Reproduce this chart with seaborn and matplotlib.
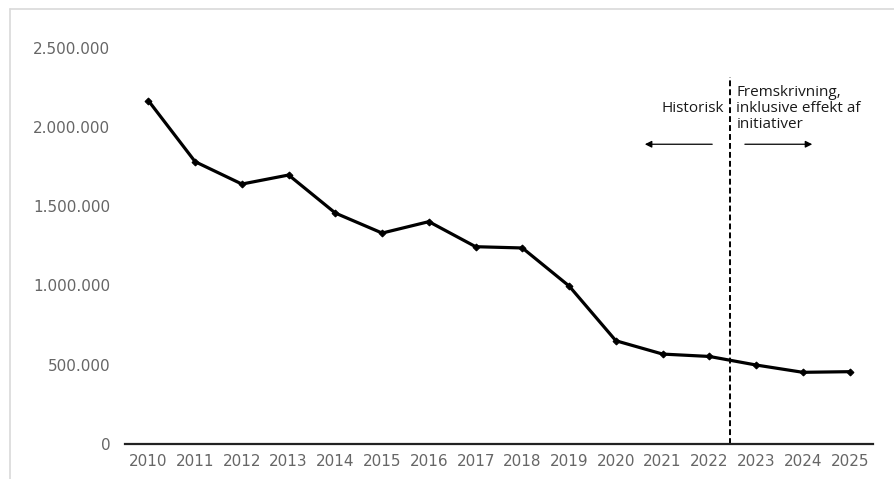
import matplotlib
matplotlib.use("Agg")
import matplotlib.pyplot as plt
import seaborn as sns
import pandas as pd
from matplotlib.lines import Line2D
from matplotlib.ticker import FuncFormatter

years = list(range(2010, 2026))
values = [2165000, 1780000, 1639000, 1696000, 1456000, 1330000, 1402000, 1244000,
          1236000, 996000, 651000, 567000, 552000, 498000, 452000, 456000]
yticks = [0, 500000, 1000000, 1500000, 2000000, 2500000]
split_year = 2022.45
label_hist = "Historisk"
label_proj = "Fremskrivning,\ninklusive effekt af\ninitiativer"

sns.set_theme(style="white")
plt.rcParams['font.family'] = ['Open Sans', 'DejaVu Sans']

W, H = 895, 479
fig = plt.figure(figsize=(W / 100, H / 100), dpi=100)
ax_left, ax_right, ax_top, ax_bottom = 125, 873, 47.5, 444
ax = fig.add_axes([ax_left / W, (H - ax_bottom) / H, (ax_right - ax_left) / W, (ax_bottom - ax_top) / H])

df = pd.DataFrame({"year": years, "value": values})
sns.lineplot(data=df, x="year", y="value", ax=ax, color="black", linewidth=2.3,
             marker="D", markersize=3.5, markeredgecolor="black")

ax.set_xlim(2009.5, 2025.5)
ax.set_ylim(0, 2500000)
ax.set_xticks(years)
ax.set_xticklabels([str(y) for y in years])
ax.set_yticks(yticks)
ax.yaxis.set_major_formatter(FuncFormatter(lambda v, p: f"{int(v):,}".replace(",", ".")))
ax.set_xlabel("")
ax.set_ylabel("")
for s in ["top", "right", "left"]:
    ax.spines[s].set_visible(False)
ax.spines["bottom"].set_color("#222222")
ax.spines["bottom"].set_linewidth(1.6)
ax.tick_params(axis="x", length=0, pad=7, labelsize=11, colors="#666666", labelfontfamily="DejaVu Sans")
ax.tick_params(axis="y", length=0, pad=10.5, labelsize=11, colors="#666666", labelfontfamily="DejaVu Sans")
ax.grid(False)

# split line
ax.axvline(split_year, ymin=0, ymax=2314000 / 2500000, color="black", linestyle=(0, (3, 1.6)), linewidth=1.4)

ax.text(split_year - 0.13, 2115000, label_hist, ha="right", va="center", fontsize=11, color="#1a1a1a")
ax.text(split_year + 0.13, 2115000, label_proj, ha="left", va="center", fontsize=11, color="#1a1a1a",
        linespacing=1.1)

arrow_y = 1890000
ax.annotate("", xy=(2020.56, arrow_y), xytext=(2022.12, arrow_y),
            arrowprops=dict(arrowstyle="-|>", color="black", lw=0.9, mutation_scale=10))
ax.annotate("", xy=(2024.26, arrow_y), xytext=(2022.70, arrow_y),
            arrowprops=dict(arrowstyle="-|>", color="black", lw=0.9, mutation_scale=10))

# outer frame (left + top)
fig.add_artist(Line2D([10 / W, 10 / W], [0, 1 - 9 / H], color="#d9d9d9", linewidth=1.2))
fig.add_artist(Line2D([10 / W, 1], [1 - 9 / H, 1 - 9 / H], color="#d9d9d9", linewidth=1.2))

fig.savefig("out.png", dpi=100)
